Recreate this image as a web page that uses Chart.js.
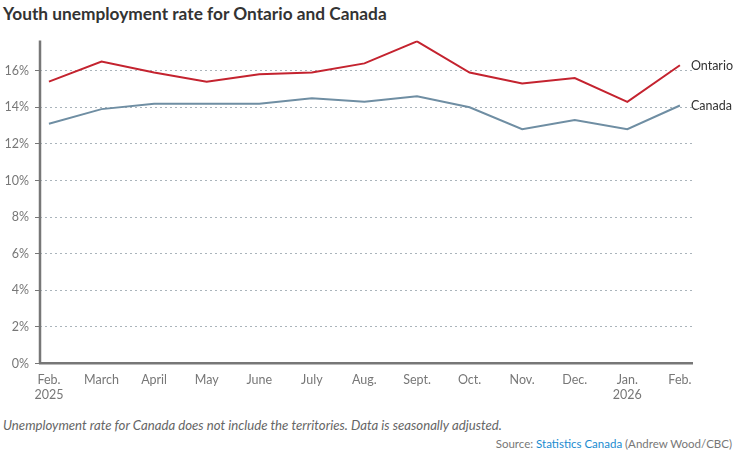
<!DOCTYPE html>
<html>
<head>
<meta charset="utf-8">
<script src="https://cdn.jsdelivr.net/npm/chart.js@4/dist/chart.umd.min.js"></script>
<style>
  body { margin: 0; background: #fff; font-family: Lato, "Noto Sans", sans-serif; }
  #title { position: absolute; left: 3px; top: 3px; font-size: 17.3px; font-weight: bold; color: #333; }
  #wrap { position: absolute; left: 0; top: 26.5px; width: 738px; height: 385px; }
  #note { position: absolute; left: 3px; top: 417px; font-size: 13.2px; font-style: italic; color: #666; }
  #source { position: absolute; right: 6px; top: 437px; font-size: 11.5px; color: #777; }
  #source span { color: #1a8bd0; }
</style>
</head>
<body>
<div id="title">Youth unemployment rate for Ontario and Canada</div>
<div id="wrap"><canvas id="chart"></canvas></div>
<div id="note">Unemployment rate for Canada does not include the territories. Data is seasonally adjusted.</div>
<div id="source">Source: <span>Statistics Canada</span> (Andrew Wood/CBC)</div>
<script>
const months = [['Feb.', '2025'], 'March', 'April', 'May', 'June', 'July', 'Aug.', 'Sept.', 'Oct.', 'Nov.', 'Dec.', ['Jan.', '2026'], 'Feb.'];
const ontario = [15.4, 16.5, 15.9, 15.4, 15.8, 15.9, 16.4, 17.6, 15.9, 15.3, 15.6, 14.3, 16.3];
const canada = [13.1, 13.9, 14.2, 14.2, 14.2, 14.5, 14.3, 14.6, 14.0, 12.8, 13.3, 12.8, 14.1];
const yTicks = [0, 2, 4, 6, 8, 10, 12, 14, 16];

function points(arr) {
  return arr.map((v, i) => ({ x: i, y: v }));
}

// solid y axis line (grid lines are dotted)
const yAxisLine = {
  id: 'yAxisLine',
  afterDraw(chart) {
    const ctx = chart.ctx;
    const a = chart.chartArea;
    ctx.save();
    ctx.strokeStyle = '#777';
    ctx.lineWidth = 2.5;
    ctx.beginPath();
    ctx.moveTo(a.left, a.top);
    ctx.lineTo(a.left, a.bottom);
    ctx.stroke();
    ctx.restore();
  }
};

const endLabels = {
  id: 'endLabels',
  afterDatasetsDraw(chart) {
    const ctx = chart.ctx;
    ctx.save();
    ctx.font = '12.5px Lato, "Noto Sans", sans-serif';
    ctx.fillStyle = '#333';
    ctx.textBaseline = 'middle';
    chart.data.datasets.forEach((ds, i) => {
      const meta = chart.getDatasetMeta(i);
      const pt = meta.data[meta.data.length - 1];
      ctx.fillText(ds.label, pt.x + 11, pt.y + 1);
    });
    ctx.restore();
  }
};

new Chart(document.getElementById('chart'), {
  type: 'line',
  data: {
    datasets: [
      { label: 'Ontario', data: points(ontario), borderColor: '#c4232f', borderWidth: 2, pointRadius: 0, tension: 0 },
      { label: 'Canada', data: points(canada), borderColor: '#6f8ea3', borderWidth: 2, pointRadius: 0, tension: 0 }
    ]
  },
  options: {
    responsive: true,
    maintainAspectRatio: false,
    animation: false,
    layout: { autoPadding: false, padding: { top: 10, right: 46, left: 0, bottom: 0 } },
    plugins: { legend: { display: false }, tooltip: { enabled: false } },
    scales: {
      x: {
        type: 'linear',
        min: -0.17,
        max: 12.23,
        afterBuildTicks: s => { s.ticks = months.map((m, i) => ({ value: i })); },
        afterFit: s => { s.height = 48.5; },
        ticks: {
          callback: v => months[v],
          color: '#777',
          font: { size: 12.5, family: 'Lato, "Noto Sans", sans-serif', lineHeight: 1.2 },
          padding: 1,
          maxRotation: 0,
          autoSkip: false
        },
        grid: { display: false },
        border: { color: '#777', width: 2.5 }
      },
      y: {
        min: 0,
        max: 17.65,
        afterBuildTicks: s => { s.ticks = yTicks.map(v => ({ value: v })); },
        afterFit: s => { s.width = 40; },
        ticks: {
          callback: v => v + '%',
          color: '#777',
          font: { size: 12.5, family: 'Lato, "Noto Sans", sans-serif' },
          padding: 6
        },
        grid: {
          color: '#aab4bb',
          tickLength: 5,
          tickColor: '#777',
          tickBorderDash: [],
          lineWidth: 1
        },
        border: { display: false, dash: [2, 3] }
      }
    }
  },
  plugins: [yAxisLine, endLabels]
});
</script>
</body>
</html>
